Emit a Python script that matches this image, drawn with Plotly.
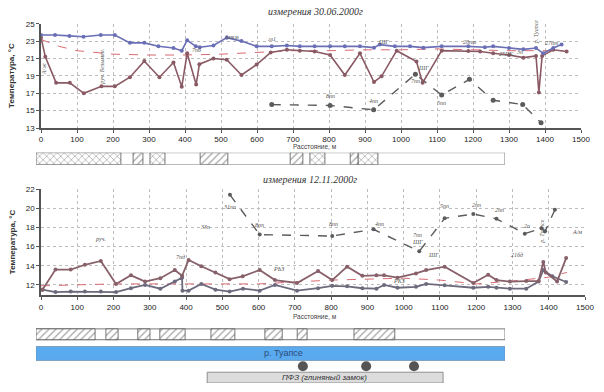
import plotly.graph_objects as go

# ---------------- data: measurement 30.06.2000 (top) ----------------
top_a_x = [0, 39, 79, 118, 166, 205, 247, 287, 326, 368, 391, 406, 430, 441, 479, 516, 557, 599, 641, 683,
           719, 760, 803, 844, 886, 925, 941, 983, 1025, 1062, 1113, 1187, 1233, 1256, 1300, 1340, 1375, 1395, 1423, 1446]
top_a_t = [23.7, 23.7, 23.6, 23.5, 23.7, 23.7, 22.8, 22.8, 22.4, 22.2, 21.9, 23.1, 22.4, 22.3, 22.5, 23.4, 23.0, 22.4, 22.4, 22.5,
           22.4, 22.4, 22.4, 22.4, 22.4, 22.25, 22.6, 22.4, 22.4, 22.25, 22.4, 22.4, 22.3, 22.4, 22.2, 22.05, 22.2, 21.6, 22.2, 22.6]

top_b_x = [0, 12, 42, 80, 119, 168, 205, 247, 287, 329, 368, 391, 406, 431, 440, 479, 516, 557, 599, 638, 683,
           719, 760, 803, 844, 886, 925, 946, 988, 1043, 1060, 1113, 1187, 1220, 1256, 1300, 1340, 1375, 1383, 1392, 1423, 1460]
top_b_t = [23.4, 21.2, 18.2, 18.2, 17.0, 17.8, 17.8, 18.85, 20.7, 18.85, 20.55, 17.75, 21.6, 18.0, 20.35, 21.0, 20.85, 19.1, 20.3, 21.7, 22.0,
           21.9, 21.8, 21.4, 19.1, 21.6, 18.3, 18.95, 21.9, 20.65, 18.2, 21.9, 21.85, 21.8, 21.6, 21.4, 21.1, 21.3, 17.1, 21.3, 22.0, 21.8]

top_c_x = [641, 803, 924, 1040, 1113, 1190, 1256, 1338, 1389]
top_c_t = [15.7, 15.6, 15.1, 19.2, 16.8, 18.6, 16.2, 15.7, 13.6]

top_trend_x = [0, 25, 50, 100, 150, 200, 300, 400, 500, 600, 700, 800, 900, 1000, 1100, 1200, 1300, 1400, 1450]
top_trend_t = [23.2, 22.8, 22.4, 21.9, 21.7, 21.5, 21.4, 21.4, 21.5, 21.7, 21.9, 21.9, 22.0, 22.0, 22.1, 22.0, 21.9, 21.9, 21.9]

# ---------------- data: measurement 12.11.2000 (bottom) ----------------
bot_a_x = [4, 40, 82, 121, 165, 207, 248, 287, 329, 369, 389, 407, 442, 481, 520, 556, 603, 645, 706, 764,
           803, 844, 886, 925, 946, 983, 1034, 1062, 1113, 1192, 1233, 1256, 1293, 1338, 1372, 1385, 1392, 1423, 1448]
bot_a_t = [11.5, 13.6, 13.6, 14.1, 14.5, 12.1, 13.0, 12.35, 12.7, 13.55, 12.95, 14.6, 13.95, 13.3, 12.6, 12.9, 13.55, 12.5, 12.2, 13.45,
           12.5, 13.9, 12.95, 13.0, 13.0, 12.75, 13.2, 13.55, 13.9, 12.2, 13.05, 12.5, 12.35, 12.4, 12.4, 14.4, 13.3, 12.35, 14.8]

bot_b_x = [4, 40, 82, 121, 165, 207, 248, 287, 329, 369, 389, 390, 407, 442, 481, 520, 557, 603, 645, 706,
           764, 803, 844, 886, 925, 946, 983, 1034, 1062, 1113, 1192, 1233, 1256, 1293, 1338, 1372, 1385, 1410, 1448]
bot_b_t = [11.5, 11.25, 11.3, 11.3, 11.3, 11.25, 11.65, 12.0, 11.6, 12.35, 12.75, 11.4, 11.4, 12.1, 11.5, 11.3, 11.6, 11.4, 12.0, 11.4,
           11.65, 11.9, 11.85, 11.65, 11.6, 12.0, 11.7, 11.8, 12.1, 11.95, 11.7, 11.8, 11.7, 11.6, 11.6, 12.35, 13.55, 12.9, 12.3]

bot_c_x = [521, 603, 803, 917, 1043, 1113, 1192, 1256, 1334, 1380, 1390, 1417]
bot_c_t = [21.4, 17.25, 17.1, 17.8, 15.5, 18.95, 19.4, 18.9, 17.35, 17.9, 17.6, 19.85]

bot_trend_x = [0, 100, 200, 300, 400, 500, 600, 700, 800, 900, 1000, 1100, 1200, 1300, 1400, 1450]
bot_trend_t = [11.9, 12.0, 12.1, 12.1, 12.1, 12.1, 12.1, 12.3, 12.5, 12.6, 12.7, 12.5, 12.1, 12.4, 12.8, 13.3]

# point labels: (x, T, text, angle)
top_labels = [(9, 19.8, "А/ж", -90), (171, 20.0, "руч. Безымян.", -90), (530, 23.5, "3мкм", 0), (641, 23.2, "гл1", 0),
              (951, 22.9, "ШГ", 0), (432, 22.0, "7пб", 0), (803, 16.7, "8пп", 0), (923, 16.1, "4пп", 0),
              (1062, 19.9, "ШГ", 0), (1039, 18.4, "7пп", 0), (1113, 15.9, "5пп", 0), (1192, 22.9, "20пт", 0),
              (1293, 21.5, "25ПК", 0), (1330, 21.8, "3п", 0), (1419, 22.8, "27пт", 0), (1377, 24.0, "р. Туапсе", -90)]
bot_labels = [(164, 16.8, "руч.", 0), (521, 20.1, "31пп", 0), (451, 18.0, "33п", 0), (603, 18.3, "8пп", 0),
              (386, 14.9, "7пд", 0), (654, 13.7, "РЬЗ", 0), (806, 18.4, "8пп", 0), (932, 18.4, "4пп", 0),
              (1039, 17.2, "7пп", 0), (1039, 16.5, "ШГ", 0), (1081, 15.1, "ШГ", 0), (988, 12.4, "РКЗ", 0),
              (1113, 20.2, "5пп", 0), (1201, 20.3, "2пп", 0), (1265, 19.8, "2пп", 0), (1340, 18.2, "2п", 0),
              (1312, 15.1, "21бд", 0), (1478, 17.5, "А/м", 0), (1383, 17.5, "р. Туапсе", -90)]

# schematic strips (percent of profile length): hatched "/" and crossed "x" segments
top_strip_slash = [(20.7, 22.8), (35.0, 40.9), (54.2, 56.9), (67.0, 68.7)]
top_strip_cross = [(0.0, 18.1), (24.3, 27.5), (58.4, 61.6), (68.7, 72.9)]
bot_strip_slash = [(0.0, 12.6), (14.9, 17.5), (21.7, 24.3), (26.4, 31.8), (37.3, 42.4), (48.8, 52.5), (55.7, 57.8), (67.8, 76.5)]
river_span = (0.0, 100.0)
clay_span = (36.5, 86.8)
wells_x = [56.9, 70.4, 80.6]

# ---------------- layout helpers ----------------
W, H = 604, 392
ML, MR, MT, MB = 30, 15, 2, 5
PW, PH = W - ML - MR, H - MT - MB
def xp(px): return (px - ML) / PW
def yp(py): return (H - MB - py) / PH

fig = go.Figure()

def line(x, y, xa, ya, color, width=1.8, dash="solid", msize=4, marker=True):
    fig.add_trace(go.Scatter(x=x, y=y, xaxis=xa, yaxis=ya, mode="lines+markers" if marker else "lines",
                             line=dict(color=color, width=width, dash=dash),
                             marker=dict(size=msize, color=color), hoverinfo="skip", showlegend=False))

# top chart
line(top_trend_x, top_trend_t, "x2", "y2", "#d86a72", 1.0, "dash", marker=False)
line(top_c_x, top_c_t, "x2", "y2", "#5c5c5c", 1.4, "dash", 5)
line(top_b_x, top_b_t, "x2", "y2", "#8a5a64", 1.6, "solid", 4)
line(top_a_x, top_a_t, "x2", "y2", "#6a6fb6", 1.6, "solid", 4)
# bottom chart
line(bot_trend_x, bot_trend_t, "x", "y", "#d86a72", 1.0, "dash", marker=False)
line(bot_c_x, bot_c_t, "x", "y", "#5c5c5c", 1.4, "dash", 4)
line(bot_b_x, bot_b_t, "x", "y", "#6c6a7c", 1.8, "solid", 4)
line(bot_a_x, bot_a_t, "x", "y", "#876069", 1.8, "solid", 4)

# schematic bars
def hbar(span, ya, yc, h, color, pattern=None, lc="#555"):
    m = dict(color=color, line=dict(color=lc, width=0.8))
    if pattern:
        m["pattern"] = dict(shape=pattern, fgcolor="#4a4a4a", bgcolor="white", size=5, solidity=0.25)
    fig.add_trace(go.Bar(y=[yc], x=[span[1] - span[0]], base=[span[0]], width=[h], orientation="h",
                         xaxis="x3", yaxis=ya, marker=m, hoverinfo="skip", showlegend=False))

hbar((0, 100), "y3", 0.5, 1, "white")
for s in top_strip_slash:
    hbar(s, "y3", 0.5, 1, "white", "/")
for s in top_strip_cross:
    hbar(s, "y3", 0.5, 1, "white", "x")
hbar((0, 100), "y4", 49.5, 11, "white")
for s in bot_strip_slash:
    hbar(s, "y4", 49.5, 11, "white", "/")
hbar(river_span, "y4", 30, 14, "#5aaaf0", lc="#6a8fb0")
hbar(clay_span, "y4", 5.5, 11, "#dcdcdc", lc="#777")
fig.add_trace(go.Scatter(x=wells_x, y=[17] * len(wells_x), xaxis="x3", yaxis="y4", mode="markers",
                         marker=dict(size=10, color="#555"), hoverinfo="skip", showlegend=False))

tickfont = dict(family="Arial", size=8, color="#222")
grid = dict(showgrid=True, gridcolor="#bdbdbd", griddash="dot", gridwidth=1)
ax_common = dict(showline=True, linecolor="#555", linewidth=1.5, ticks="outside", tickcolor="#555",
                 ticklen=3, tickfont=tickfont, zeroline=False, **grid)

fig.update_layout(
    width=W, height=H, margin=dict(l=ML, r=MR, t=MT, b=MB),
    paper_bgcolor="white", plot_bgcolor="white", barmode="overlay",
    xaxis=dict(domain=[xp(41), xp(585)], range=[0, 1500], dtick=100, anchor="y", **ax_common),
    yaxis=dict(domain=[yp(296), yp(188)], range=[10.9, 22], tickvals=[12, 14, 16, 18, 20, 22], anchor="x", **ax_common),
    xaxis2=dict(domain=[xp(41), xp(581)], range=[0, 1500], dtick=100, anchor="y2", **ax_common),
    yaxis2=dict(domain=[yp(126), yp(20)], range=[13, 25], tick0=13, dtick=2, anchor="x2", **ax_common),
    xaxis3=dict(domain=[xp(36), xp(505)], range=[0, 100], anchor="y3", visible=False),
    yaxis3=dict(domain=[yp(163), yp(151)], range=[0, 1], anchor="x3", visible=False),
    yaxis4=dict(domain=[yp(385), yp(329)], range=[0, 56], anchor="x3", visible=False),
)

ann = []
def pa(text, px, py, font, angle=0):
    ann.append(dict(text=text, x=xp(px), y=yp(py), xref="paper", yref="paper", showarrow=False,
                    textangle=angle, font=font, xanchor="center", yanchor="middle"))

ttl = dict(family="Liberation Serif", size=10, color="#333")
pa("<i>измерения 30.06.2000г</i>", 315, 8, ttl)
pa("<i>измерения 12.11.2000г</i>", 310, 178, ttl)
lab = dict(family="Arial", size=6.5, color="#444")
pa("Расстояние, м", 315, 145, lab)
pa("Расстояние, м", 315, 317, lab)
yt = dict(family="Arial", size=8, color="#333")
pa("<b>Температура, °С</b>", 12, 73, yt, -90)
pa("<b>Температура, °С</b>", 12, 242, yt, -90)
small = dict(family="Liberation Serif", size=6, color="#555")
for x, t, s, a in top_labels:
    ann.append(dict(text=f"<i>{s}</i>", x=x, y=t, xref="x2", yref="y2", showarrow=False, textangle=a, font=small))
for x, t, s, a in bot_labels:
    ann.append(dict(text=f"<i>{s}</i>", x=x, y=t, xref="x", yref="y", showarrow=False, textangle=a, font=small))
ann.append(dict(text="р. Туапсе", x=52.7, y=30, xref="x3", yref="y4", showarrow=False,
                font=dict(family="Arial", size=9, color="#2c4a78")))
ann.append(dict(text="<i>ПФЗ (глиняный замок)</i>", x=61.6, y=5.5, xref="x3", yref="y4", showarrow=False,
                font=dict(family="Arial", size=8, color="#333")))
fig.update_layout(annotations=ann)

fig.write_html("out.html", config={"displayModeBar": False},
               post_script="document.body.style.margin='0';document.body.style.overflow='hidden';")
